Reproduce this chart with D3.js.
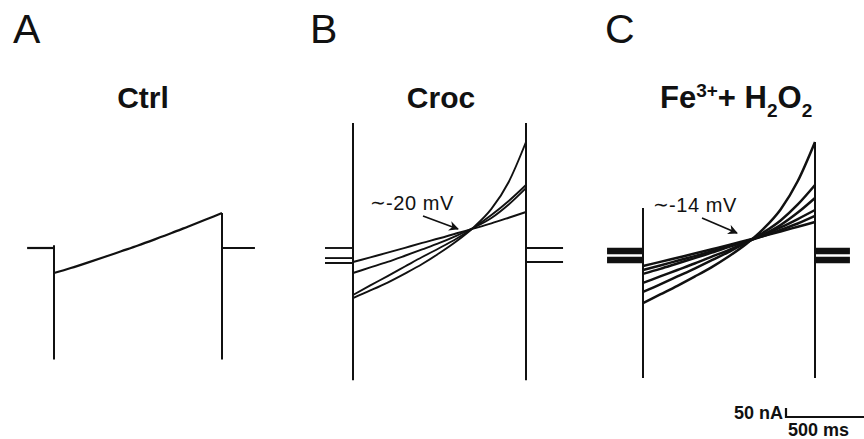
<!doctype html>
<html>
<head>
<meta charset="utf-8">
<script src="https://cdn.jsdelivr.net/npm/d3@7"></script>
<style>
  body { margin: 0; background: #fff; }
  text { font-family: "Liberation Sans", Arial, sans-serif; fill: #111; }
</style>
</head>
<body>
<div id="fig"></div>
<script>
// sample times during the 1 s voltage step (ms)
var stepTimes = [0, 100, 200, 300, 400, 500, 600, 700, 800, 900, 1000];

// currents in nA
var ctrlTraces = [
  [-139, -111, -81, -50, -18, 14, 48, 83, 120, 157, 194]
];
var ctrlHoldPre = [0], ctrlHoldPost = [0];

var crocTraces = [
  [-78, -52, -26, 1, 28, 54, 82, 109, 137, 168, 200],
  [-139, -108, -77, -43, -8, 28, 69, 114, 167, 242, 333],
  [-261, -208, -156, -103, -50, 0, 53, 114, 183, 261, 350],
  [-278, -236, -192, -142, -89, -28, 39, 117, 217, 367, 589]
];
var crocHoldPre = [0, -56, -83, -83], crocHoldPost = [0, 0, -78, -78];

var feTraces = [
  [-100, -77, -54, -31, -7, 17, 42, 67, 92, 118, 144],
  [-122, -97, -71, -45, -18, 9, 37, 66, 100, 136, 178],
  [-144, -116, -86, -56, -26, 6, 38, 72, 114, 161, 211],
  [-194, -158, -122, -86, -48, -10, 31, 75, 128, 197, 278],
  [-244, -202, -158, -114, -68, -21, 29, 86, 153, 242, 350],
  [-306, -258, -210, -159, -106, -46, 22, 106, 214, 372, 589]
];
var feHoldPre = [-6, -17, -28, -56, -67, -78], feHoldPost = [-6, -17, -28, -56, -67, -78];

// capacitive transients [min, max] at step on / off (nA)
var ctrlOn = [-620, 15], ctrlOff = [-620, 194];
var crocOn = [-735, 695], crocOff = [-735, 695];
var feOn = [-722, 222], feOff = [-722, 589];

var panels = [
  {letter: "A", traces: ctrlTraces, pre: ctrlHoldPre, post: ctrlHoldPost, on: ctrlOn, off: ctrlOff,
   preMs: 160, postMs: 196, x0: 54, x1: 222, lw: 2.2, lx: 13},
  {letter: "B", traces: crocTraces, pre: crocHoldPre, post: crocHoldPost, on: crocOn, off: crocOff,
   preMs: 162, postMs: 214, x0: 353, x1: 526, lw: 1.9, lx: 310},
  {letter: "C", traces: feTraces, pre: feHoldPre, post: feHoldPost, on: feOn, off: feOff,
   preMs: 209, postMs: 203, x0: 643, x1: 815, lw: 2.5, lx: 605}
];

var width = 864, height = 439;
var svg = d3.select("#fig").append("svg").attr("width", width).attr("height", height);

var defs = svg.append("defs");
defs.append("marker").attr("id", "arr")
  .attr("viewBox", "0 0 10 10").attr("refX", 9).attr("refY", 5)
  .attr("markerWidth", 10).attr("markerHeight", 10).attr("orient", "auto")
  .attr("markerUnits", "userSpaceOnUse")
  .append("path").attr("d", "M0,0 L10,5 L0,10 L3,5 Z").attr("fill", "#111");

// current scale shared by all panels: 50 nA = 9 px
var y = d3.scaleLinear().domain([-750, 750]).range([383, 113]);

panels.forEach(function(p) {
  var x = d3.scaleLinear().domain([0, 1000]).range([p.x0, p.x1]);
  var g = svg.append("g");
  var line = d3.line().x(function(d) { return x(d[0]); }).y(function(d) { return y(d[1]); })
    .curve(d3.curveMonotoneX);

  p.traces.forEach(function(tr, i) {
    var pts = stepTimes.map(function(t, j) { return [t, tr[j]]; });
    g.append("path").attr("d", line(pts)).attr("fill", "none")
      .attr("stroke", "#111").attr("stroke-width", p.lw);
    g.append("line")
      .attr("x1", x(-p.preMs)).attr("x2", x(0))
      .attr("y1", y(p.pre[i])).attr("y2", y(p.pre[i]))
      .attr("stroke", "#111").attr("stroke-width", p.lw);
    g.append("line")
      .attr("x1", x(1000)).attr("x2", x(1000 + p.postMs))
      .attr("y1", y(p.post[i])).attr("y2", y(p.post[i]))
      .attr("stroke", "#111").attr("stroke-width", p.lw);
  });

  [[0, p.on], [1000, p.off]].forEach(function(tv) {
    g.append("line")
      .attr("x1", x(tv[0])).attr("x2", x(tv[0]))
      .attr("y1", y(tv[1][0])).attr("y2", y(tv[1][1]))
      .attr("stroke", "#111").attr("stroke-width", 2);
  });

  svg.append("text").attr("x", p.lx).attr("y", 43)
    .attr("font-size", 41).text(p.letter);
});

// titles
svg.append("text").attr("x", 143).attr("y", 108).attr("text-anchor", "middle")
  .attr("font-size", 30).attr("font-weight", "bold").text("Ctrl");
svg.append("text").attr("x", 441).attr("y", 108).attr("text-anchor", "middle")
  .attr("font-size", 30).attr("font-weight", "bold").text("Croc");
var fe = svg.append("text").attr("x", 660).attr("y", 108)
  .attr("font-size", 31).attr("font-weight", "bold");
fe.append("tspan").text("Fe");
fe.append("tspan").attr("font-size", 19).attr("dy", -11).text("3+");
fe.append("tspan").attr("dy", 11).text("+ H");
fe.append("tspan").attr("font-size", 19).attr("dy", 9).text("2");
fe.append("tspan").attr("dy", -9).text("O");
fe.append("tspan").attr("font-size", 19).attr("dy", 9).text("2");

// reversal annotations
var notes = [
  {label: "-20 mV", x: 370, y: 210, from: [423, 216], to: [458, 229]},
  {label: "-14 mV", x: 653, y: 212, from: [702, 218], to: [737, 233]}
];
notes.forEach(function(n) {
  var t = svg.append("text").attr("x", n.x).attr("y", n.y).attr("font-size", 20);
  t.append("tspan").attr("font-family", "DejaVu Sans").attr("font-size", 19).attr("dy", -1).text("\u223C");
  t.append("tspan").attr("dy", 1).attr("letter-spacing", 0.6).text(n.label);
  svg.append("line")
    .attr("x1", n.from[0]).attr("y1", n.from[1]).attr("x2", n.to[0]).attr("y2", n.to[1])
    .attr("stroke", "#111").attr("stroke-width", 1.7).attr("marker-end", "url(#arr)");
});

// scale bar: 50 nA, 500 ms (C time scale)
var xs = d3.scaleLinear().domain([0, 1000]).range([643, 815]);
var barX = 786, barY = 417;
var barW = xs(500) - xs(0), barH = y(0) - y(50);
svg.append("path")
  .attr("d", "M" + barX + "," + (barY - barH) + " L" + barX + "," + barY + " L" + (barX + barW) + "," + barY)
  .attr("fill", "none").attr("stroke", "#111").attr("stroke-width", 2.2);
svg.append("text").attr("x", barX - 3).attr("y", 419).attr("text-anchor", "end")
  .attr("font-size", 18).attr("font-weight", "bold").text("50 nA");
svg.append("text").attr("x", 788).attr("y", 436)
  .attr("font-size", 18).attr("font-weight", "bold").text("500 ms");
</script>
</body>
</html>
